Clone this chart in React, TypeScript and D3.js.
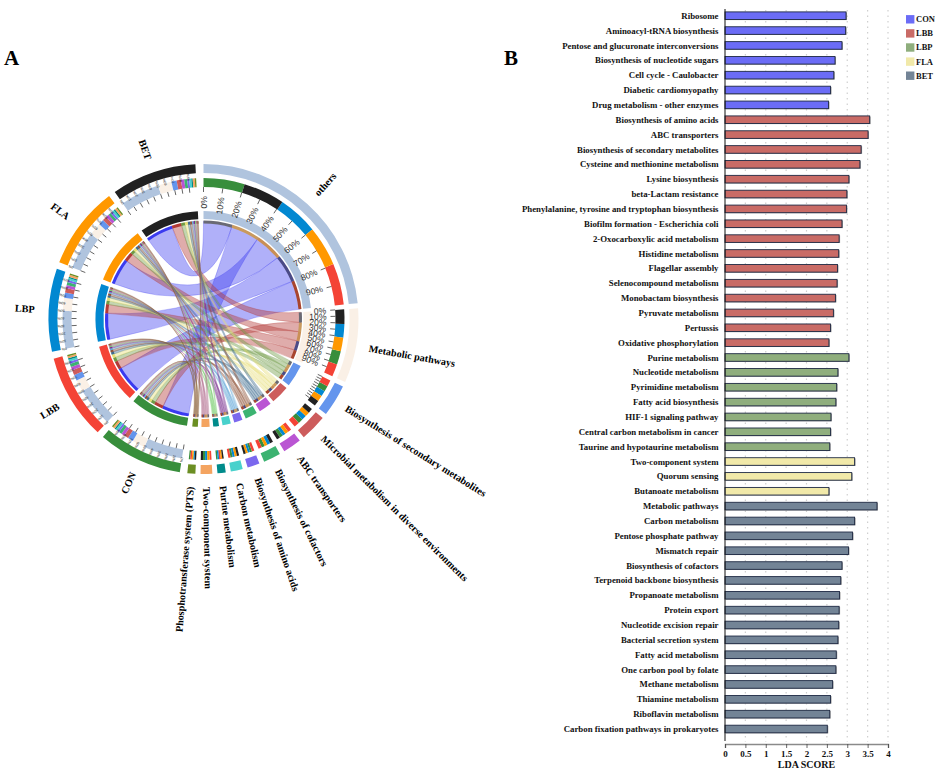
import React, { useEffect, useRef } from 'react';
import * as d3 from 'd3';

// panel A: chord diagram
const speciesNames = ['CON', 'LBB', 'LBP', 'FLA', 'BET'];
const speciesColors = ['#388E3C', '#F44336', '#0288D1', '#FF9800', '#212121'];
const speciesBandColors = ['#C99A5E', '#A8452E', '#4B4B86', '#C98F55', '#6A6A74'];

const pathwayNames = [
  'others',
  'Metabolic pathways',
  'Biosynthesis of secondary metabolites',
  'Microbial metabolism in diverse environments',
  'ABC transporters',
  'Biosynthesis of cofactors',
  'Biosynthesis of amino acids',
  'Carbon metabolism',
  'Purine metabolism',
  'Two-component system',
  'Phosphotransferase system (PTS)',
];
const pathwayColors = ['#B0C4DE', '#FAF0E6', '#6495ED', '#CD5C5C', '#BA55D3', '#3CB371', '#7B68EE', '#48D1CC', '#008B8B', '#F4A460', '#6B8E23'];
const linkColors = ['#3A3AF0', '#B23A36', '#6F9A45', '#E6DE78', '#3F6C8E', '#8F5238', '#62A8D8', '#7A2E8E', '#78CC6E', '#B06A8C', '#84562C'];

// share of each species in each pathway (rows follow speciesNames, columns pathwayNames)
const flows = [
  [17.0, 5.6, 2.4, 2.0, 1.4, 1.3, 0.9, 0.9, 0.6, 0.9, 0.6],
  [17.2, 5.2, 2.6, 2.2, 1.5, 1.4, 1.0, 0.9, 0.7, 0.8, 0.6],
  [16.6, 5.6, 2.3, 2.0, 1.3, 1.3, 0.9, 0.9, 0.6, 0.9, 0.6],
  [16.5, 5.6, 2.4, 1.9, 1.4, 1.2, 0.9, 0.9, 0.6, 0.9, 0.6],
  [17.1, 6.0, 2.3, 1.9, 1.4, 1.3, 0.9, 0.9, 0.6, 0.9, 0.6],
];

// clockwise order of the species in the outer stacked track of each pathway
const trackOrders = [
  [0, 4, 2, 3, 1],
  [4, 2, 3, 0, 1],
  [1, 0, 2, 3, 4],
  [4, 3, 2, 0, 1],
  [1, 3, 2, 0, 4],
  [4, 2, 3, 0, 1],
  [1, 0, 2, 3, 4],
  [4, 3, 2, 0, 1],
  [4, 3, 1, 2, 0],
  [1, 3, 2, 0, 4],
  [4, 2, 3, 1, 0],
];
// clockwise order of the ribbons landing on a pathway
const ribbonOrder = [4, 0, 3, 2, 1];

const percentTicks = [0, 10, 20, 30, 40, 50, 60, 70, 80, 90];

// panel B: LDA scores
const conTerms = ['Ribosome', 'Aminoacyl-tRNA biosynthesis', 'Pentose and glucuronate interconversions', 'Biosynthesis of nucleotide sugars', 'Cell cycle - Caulobacter', 'Diabetic cardiomyopathy', 'Drug metabolism - other enzymes'];
const conScores = [2.97, 2.96, 2.87, 2.7, 2.67, 2.59, 2.54];
const lbbTerms = ['Biosynthesis of amino acids', 'ABC transporters', 'Biosynthesis of secondary metabolites', 'Cysteine and methionine metabolism', 'Lysine biosynthesis', 'beta-Lactam resistance', 'Phenylalanine, tyrosine and tryptophan biosynthesis', 'Biofilm formation - Escherichia coli', '2-Oxocarboxylic acid metabolism', 'Histidine metabolism', 'Flagellar assembly', 'Selenocompound metabolism', 'Monobactam biosynthesis', 'Pyruvate metabolism', 'Pertussis', 'Oxidative phosphorylation'];
const lbbScores = [3.55, 3.51, 3.34, 3.31, 3.04, 2.99, 2.98, 2.87, 2.8, 2.79, 2.76, 2.75, 2.71, 2.66, 2.59, 2.55];
const lbpTerms = ['Purine metabolism', 'Nucleotide metabolism', 'Pyrimidine metabolism', 'Fatty acid biosynthesis', 'HIF-1 signaling pathway', 'Central carbon metabolism in cancer', 'Taurine and hypotaurine metabolism'];
const lbpScores = [3.04, 2.77, 2.74, 2.72, 2.6, 2.59, 2.57];
const flaTerms = ['Two-component system', 'Quorum sensing', 'Butanoate metabolism'];
const flaScores = [3.18, 3.11, 2.55];
const betTerms = ['Metabolic pathways', 'Carbon metabolism', 'Pentose phosphate pathway', 'Mismatch repair', 'Biosynthesis of cofactors', 'Terpenoid backbone biosynthesis', 'Propanoate metabolism', 'Protein export', 'Nucleotide excision repair', 'Bacterial secretion system', 'Fatty acid metabolism', 'One carbon pool by folate', 'Methane metabolism', 'Thiamine metabolism', 'Riboflavin metabolism', 'Carbon fixation pathways in prokaryotes'];
const betScores = [3.73, 3.18, 3.13, 3.03, 2.87, 2.84, 2.81, 2.8, 2.79, 2.77, 2.73, 2.72, 2.64, 2.59, 2.57, 2.51];

const groupNames = ['CON', 'LBB', 'LBP', 'FLA', 'BET'];
const groupColors = ['#6B6CF6', '#C96B66', '#8FAE7D', '#F1E9A9', '#738496'];
const groupTerms = [conTerms, lbbTerms, lbpTerms, flaTerms, betTerms];
const groupScores = [conScores, lbbScores, lbpScores, flaScores, betScores];
const xTicks = [0, 0.5, 1, 1.5, 2, 2.5, 3, 3.5, 4];

const SERIF = '"Liberation Serif", "Times New Roman", serif';
const SANS = '"Liberation Sans", Arial, sans-serif';
const rad = (deg: number) => (deg * Math.PI) / 180;
const deg = (r: number) => (r * 180) / Math.PI;

// lays out consecutive sectors between two angles with a fixed gap
function layoutSectors(totals: number[], from: number, to: number, gap: number) {
  const sum = d3.sum(totals);
  const scale = d3.scaleLinear().domain([0, sum]).range([0, to - from - gap * (totals.length - 1)]);
  let cursor = 0;
  return totals.map((v, i) => {
    const start = from + scale(cursor) + gap * i;
    cursor += v;
    return { start: rad(start), end: rad(from + scale(cursor) + gap * i) };
  });
}

function stack(order: number[], values: number[], sector: { start: number; end: number }) {
  const total = d3.sum(order, k => values[k]);
  const a = d3.scaleLinear().domain([0, total]).range([sector.start, sector.end]);
  const out: { startAngle: number; endAngle: number }[] = [];
  let cursor = 0;
  order.forEach(k => {
    out[k] = { startAngle: a(cursor), endAngle: a(cursor + values[k]) };
    cursor += values[k];
  });
  return out;
}

function drawChord(root: d3.Selection<SVGGElement, unknown, null, undefined>) {
  const pathwayTotals = pathwayNames.map((_, j) => d3.sum(flows, row => row[j]));
  const speciesTotals = flows.map(row => d3.sum(row));
  const pathwaySectors = layoutSectors(pathwayTotals, 0, 186, 1.9);
  const speciesSectors = layoutSectors(speciesTotals, 188.8, 357, 2.6);

  const arc = d3.arc<any>();
  const ribbon = d3.ribbon<any, any>().radius(97.5);
  const band = (inner: number, outer: number, a0: number, a1: number) =>
    arc({ innerRadius: inner, outerRadius: outer, startAngle: a0, endAngle: a1 }) as string;

  const allOrder = pathwayNames.map((_, j) => j);

  // ribbons
  const pathwayEnds = pathwayNames.map((_, j) => stack(ribbonOrder, flows.map(r => r[j]), pathwaySectors[j]));
  const speciesEnds = speciesNames.map((_, i) => stack(allOrder, flows[i], speciesSectors[i]));

  const links = root.append('g');
  pathwayNames.forEach((_, j) => {
    speciesNames.forEach((__, i) => {
      links.append('path')
        .attr('d', ribbon({ source: speciesEnds[i][j], target: pathwayEnds[j][i] }) as unknown as string)
        .attr('fill', linkColors[j])
        .attr('fill-opacity', j === 0 ? 0.4 : 0.42)
        .attr('stroke', linkColors[j])
        .attr('stroke-opacity', 0.55)
        .attr('stroke-width', 0.5);
    });
  });

  // thin end bands on the ribbons
  speciesNames.forEach((_, i) => {
    pathwayNames.forEach((__, j) => {
      root.append('path').attr('d', band(95.5, 98.5, speciesEnds[i][j].startAngle, speciesEnds[i][j].endAngle)).attr('fill', linkColors[j]);
      root.append('path').attr('d', band(95.5, 98.5, pathwayEnds[j][i].startAngle, pathwayEnds[j][i].endAngle)).attr('fill', speciesBandColors[i]);
    });
  });

  const drawTicks = (sector: { start: number; end: number }) => {
    const a = d3.scaleLinear().domain([0, 100]).range([sector.start, sector.end]);
    percentTicks.forEach(t => {
      const th = a(t) - Math.PI / 2;
      root.append('line')
        .attr('x1', 132 * Math.cos(th)).attr('y1', 132 * Math.sin(th))
        .attr('x2', 127 * Math.cos(th)).attr('y2', 127 * Math.sin(th))
        .attr('stroke', '#222').attr('stroke-width', 0.7);
    });
    return a;
  };

  // pathway rings
  pathwayNames.forEach((name, j) => {
    const s = pathwaySectors[j];
    root.append('path').attr('d', band(100, 108, s.start, s.end)).attr('fill', pathwayColors[j]);
    root.append('path').attr('d', band(146, 155, s.start, s.end)).attr('fill', pathwayColors[j]);
    const parts = stack(trackOrders[j], flows.map(r => r[j]), s);
    parts.forEach((p, i) => {
      root.append('path').attr('d', band(132, 141, p.startAngle, p.endAngle)).attr('fill', speciesColors[i]);
    });
    if (j < 3) {
      const a = drawTicks(s);
      if (j < 2) {
        percentTicks.forEach(t => {
          const d = deg(a(t));
          root.append('text')
            .attr('transform', `rotate(${d}) translate(0,-123) rotate(-90)`)
            .attr('text-anchor', 'end')
            .attr('dy', '0.35em')
            .attr('font-family', SANS)
            .attr('font-size', 8.6)
            .attr('fill', '#333')
            .text(`${t}%`);
        });
      }
    }
    const mid = deg((s.start + s.end) / 2);
    const flip = mid > 180;
    root.append('text')
      .attr('transform', `rotate(${mid}) translate(0,-168) rotate(${flip ? 90 : -90})`)
      .attr('text-anchor', flip ? 'end' : 'start')
      .attr('dy', '0.35em')
      .attr('font-family', SERIF)
      .attr('font-weight', 'bold')
      .attr('font-size', 10.2)
      .attr('fill', '#000')
      .text(name);
  });

  // species rings
  speciesNames.forEach((name, i) => {
    const s = speciesSectors[i];
    root.append('path').attr('d', band(100, 108, s.start, s.end)).attr('fill', speciesColors[i]);
    root.append('path').attr('d', band(146, 155, s.start, s.end)).attr('fill', speciesColors[i]);
    const parts = stack(allOrder, flows[i], s);
    parts.forEach((p, j) => {
      root.append('path').attr('d', band(132, 141, p.startAngle, p.endAngle)).attr('fill', pathwayColors[j]);
    });
    const a = drawTicks(s);
    percentTicks.forEach(t => {
      root.append('text')
        .attr('transform', `rotate(${deg(a(t))}) translate(0,-142.5) rotate(-90)`)
        .attr('text-anchor', 'middle')
        .attr('dy', '0.35em')
        .attr('font-family', SANS)
        .attr('font-size', 3.5)
        .attr('fill', '#222')
        .text(`${t}%`);
    });
    const mid = deg((s.start + s.end) / 2);
    root.append('text')
      .attr('transform', `rotate(${mid}) translate(0,-169) rotate(90)`)
      .attr('text-anchor', 'end')
      .attr('dy', '0.35em')
      .attr('font-family', SERIF)
      .attr('font-weight', 'bold')
      .attr('font-size', 10.2)
      .attr('fill', '#000')
      .text(name);
  });
}

function drawBars(svg: d3.Selection<SVGSVGElement, unknown, null, undefined>) {
  const terms = groupTerms.flat();
  const rows = groupTerms.flatMap((list, g) => list.map((t, k) => ({ term: t, score: groupScores[g][k], group: g })));
  const x = d3.scaleLinear().domain([0, 4]).range([725, 888]);
  const y = d3.scalePoint<number>().domain(d3.range(terms.length)).range([15.7, 729]);

  const grid = svg.append('g');
  xTicks.slice(1).forEach(t => {
    grid.append('line')
      .attr('x1', x(t)).attr('x2', x(t))
      .attr('y1', 10).attr('y2', 742)
      .attr('stroke', '#cfcfcf')
      .attr('stroke-width', 1.2)
      .attr('stroke-dasharray', '1.5 4');
  });

  const bars = svg.append('g');
  rows.forEach((d, i) => {
    const cy = y(i) as number;
    bars.append('rect')
      .attr('x', x(0) + 1).attr('y', cy - 3.2)
      .attr('width', x(d.score) - x(0)).attr('height', 7.6)
      .attr('fill', '#9a9a9a');
    bars.append('rect')
      .attr('x', x(0)).attr('y', cy - 3.8)
      .attr('width', x(d.score) - x(0)).attr('height', 7.6)
      .attr('fill', groupColors[d.group])
      .attr('stroke', '#1f2a44')
      .attr('stroke-width', 0.9);
    svg.append('text')
      .attr('x', 718.5).attr('y', cy)
      .attr('dy', '0.35em')
      .attr('text-anchor', 'end')
      .attr('font-family', SERIF)
      .attr('font-weight', 'bold')
      .attr('font-size', 8.8)
      .attr('fill', '#111')
      .text(d.term);
  });

  svg.append('line')
    .attr('x1', x(0)).attr('x2', x(0))
    .attr('y1', 9).attr('y2', 741)
    .attr('stroke', '#111').attr('stroke-width', 1);

  const axis = svg.append('g')
    .attr('transform', 'translate(0,744)')
    .call(d3.axisBottom(x).tickValues(xTicks).tickSize(4).tickPadding(3).tickFormat(d => `${d}`));
  axis.select('.domain').attr('stroke', '#8a8a8a').attr('stroke-width', 1.4);
  axis.selectAll('.tick line').attr('stroke', '#444').attr('stroke-width', 0.8);
  axis.selectAll('text').attr('font-family', SERIF).attr('font-weight', 'bold').attr('font-size', 9).attr('fill', '#111');

  svg.append('text')
    .attr('x', 806.5).attr('y', 767.5)
    .attr('text-anchor', 'middle')
    .attr('font-family', SERIF)
    .attr('font-weight', 'bold')
    .attr('font-size', 10)
    .attr('fill', '#111')
    .text('LDA SCORE');

  const legendY = d3.scalePoint<number>().domain(d3.range(groupNames.length)).range([19.3, 75.7]);
  groupNames.forEach((name, i) => {
    const cy = legendY(i) as number;
    svg.append('rect')
      .attr('x', 906).attr('y', cy - 4.2)
      .attr('width', 8.4).attr('height', 8.4)
      .attr('fill', groupColors[i]);
    svg.append('text')
      .attr('x', 916).attr('y', cy)
      .attr('dy', '0.35em')
      .attr('font-family', SERIF)
      .attr('font-weight', 'bold')
      .attr('font-size', 8.5)
      .attr('fill', '#111')
      .text(name);
  });
}

export default function App() {
  const svgRef = useRef<SVGSVGElement>(null);

  useEffect(() => {
    if (!svgRef.current) return;
    const svg = d3.select(svgRef.current);
    svg.selectAll('*').remove();

    const chord = svg.append('g').attr('transform', 'translate(203.5,319)');
    drawChord(chord);
    drawBars(svg);

    svg.append('text').attr('x', 4).attr('y', 65)
      .attr('font-family', SERIF).attr('font-weight', 'bold').attr('font-size', 21).text('A');
    svg.append('text').attr('x', 504).attr('y', 65)
      .attr('font-family', SERIF).attr('font-weight', 'bold').attr('font-size', 21).text('B');
  }, []);

  return (
    <svg
      ref={svgRef}
      width={935}
      height={768}
      style={{ position: 'absolute', left: 0, top: 0, display: 'block', background: '#fff' }}
    />
  );
}
